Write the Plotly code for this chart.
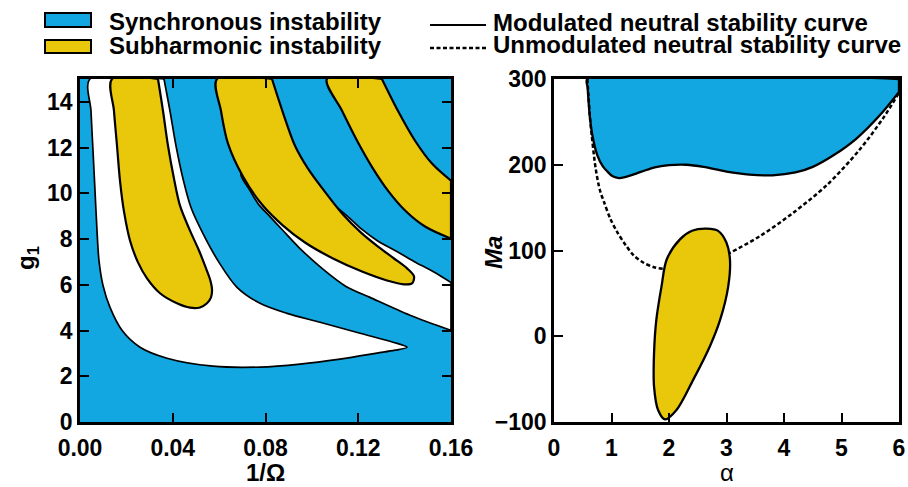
import plotly.graph_objects as go

BLUE = "#12A7E0"
YELLOW = "#E9C80B"
FONT = "Liberation Sans"

# ---------------- Left panel: x = 1/Omega, y = g1 ----------------
X1_RANGE = [0, 0.16]
Y1_RANGE = [0, 15]
x1_ticks = [0.0, 0.04, 0.08, 0.12, 0.16]
y1_ticks = [0, 2, 4, 6, 8, 10, 12, 14]

# stable (white) region 1 : left/lower boundary then upper boundary
w1_x = [0.00431, 0.00474, 0.00561, 0.00647, 0.00733, 0.00819, 0.00992, 0.01294, 0.01811,
        0.02588, 0.03752, 0.05736, 0.07763, 0.09488, 0.11213, 0.12809, 0.13585, 0.14103,
        0.13499, 0.12076, 0.10350, 0.08927, 0.07763, 0.06771, 0.05995, 0.05305, 0.04787,
        0.04442, 0.04140, 0.03881, 0.03623]
w1_y = [15.0, 13.60, 11.86, 10.12, 8.37, 7.06, 5.97, 5.01, 4.01,
        3.27, 2.79, 2.44, 2.40, 2.53, 2.75, 3.01, 3.14, 3.27,
        3.49, 3.88, 4.36, 4.75, 5.19, 5.89, 6.98, 8.24, 9.38,
        10.64, 12.08, 13.60, 15.0]

# stable (white) region 2 : lower boundary, right edge, upper boundary
w2_x = [0.06943, 0.07332, 0.07677, 0.08194, 0.08712, 0.09445, 0.10437, 0.11472, 0.12507,
        0.14232, 0.16, 0.16, 0.15224, 0.14404, 0.13585, 0.12809, 0.12162, 0.11601, 0.11000]
w2_y = [10.86, 10.12, 9.55, 8.98, 8.42, 7.63, 6.72, 5.93, 5.45,
        4.67, 4.01, 6.10, 6.58, 7.02, 7.50, 7.94, 8.42, 8.94, 9.45]

# subharmonic tongues (yellow)
s1_x = [0.01380, 0.01466, 0.01596, 0.01725, 0.01898, 0.02156, 0.02501, 0.02890, 0.03450,
        0.04183, 0.04744, 0.05175, 0.05477, 0.05650, 0.05693, 0.05607, 0.05434, 0.05132,
        0.04744, 0.04313, 0.04054, 0.03795, 0.03580, 0.03364]
s1_y = [15.0, 13.60, 12.08, 10.55, 9.20, 7.94, 6.98, 6.28, 5.63,
        5.19, 5.00, 5.01, 5.19, 5.45, 5.80, 6.24, 6.72, 7.50,
        8.37, 9.46, 10.64, 12.08, 13.60, 15.0]

s2_x = [0.05908, 0.06081, 0.06383, 0.07030, 0.07849, 0.08755, 0.09704, 0.10911, 0.12162,
        0.13240, 0.13973, 0.14318, 0.14404, 0.14103, 0.13542, 0.12852, 0.12119, 0.11342,
        0.10523, 0.09833, 0.09272, 0.08755, 0.08280]
s2_y = [15.0, 13.60, 12.17, 10.73, 9.51, 8.59, 7.85, 7.15, 6.58,
        6.19, 6.02, 6.06, 6.37, 6.72, 7.15, 7.67, 8.28, 9.07,
        10.12, 11.08, 12.08, 13.52, 15.0]

s3_x = [0.1065, 0.1302, 0.1371, 0.1445, 0.1518, 0.16, 0.16, 0.1488, 0.1402, 0.1328,
        0.1259, 0.1195, 0.1130]
s3_y = [15.0, 15.0, 13.61, 12.30, 11.30, 10.55, 8.02, 8.55, 9.25, 10.12,
        11.16, 12.30, 13.61]

# ---------------- Right panel: x = alpha, y = Ma ----------------
X2_RANGE = [0, 6]
Y2_RANGE = [-100, 300]
x2_ticks = [0, 1, 2, 3, 4, 5, 6]
y2_ticks = [-100, 0, 100, 200, 300]

sync_x = [0.58, 6.0, 6.0, 5.67, 5.26, 4.86, 4.5, 4.2, 3.8, 3.4, 3.0, 2.6, 2.3, 2.0,
          1.75, 1.51, 1.25, 1.13, 1.02, 0.93, 0.85, 0.754, 0.667, 0.62, 0.6, 0.585]
sync_y = [300, 300, 285, 258, 230.6, 211, 197.5, 191, 187.7, 188.5, 192, 197.5, 200, 199.5,
          197, 191.6, 186, 184.5, 186.5, 192, 198, 211, 234.5, 258, 275, 290]

unmod_x = [0.58, 0.6, 0.62, 0.638, 0.725, 0.8, 0.87, 0.98, 1.1, 1.25, 1.39, 1.55, 1.74,
           1.91, 2.1, 2.4, 2.7, 3.06, 3.58, 4.16, 4.74, 5.32, 5.73, 6.0]
unmod_y = [300, 280, 260, 246, 195.5, 170, 156.5, 137, 121.4, 106, 94, 86, 80.5,
           78.6, 78.5, 80, 85, 97.3, 116.7, 144, 176, 218, 255, 284]

sub_x = [1.93, 1.81, 1.74, 1.74, 1.78, 1.87, 1.96, 2.19, 2.4, 2.655, 2.86, 3.0, 3.06,
         3.03, 2.89, 2.71, 2.42, 2.13]
sub_y = [-96.9, -86, -58.7, -19.7, 19.3, 58.2, 89.5, 113, 123, 125.4, 122.6, 109, 89.5,
         58.2, 19.3, -11.9, -50.9, -86]

fig = go.Figure()


def region(x, y, color, xa, ya, lw=2.0, corners=()):
    """Closed smooth outline; points listed in `corners` are kept sharp."""
    xs, ys = [], []
    for i, (a, b) in enumerate(zip(x, y)):
        xs.append(a)
        ys.append(b)
        if i in corners:
            xs.append(a)
            ys.append(b)
    xs.append(x[0])
    ys.append(y[0])
    fig.add_trace(go.Scatter(x=xs, y=ys, mode="lines", fill="toself", fillcolor=color,
                             line=dict(color="black", width=lw, shape="spline", smoothing=0.9),
                             xaxis=xa, yaxis=ya, hoverinfo="skip", showlegend=False))


region(w1_x, w1_y, "white", "x", "y", 1.7, corners=(len(w1_x) - 1,))
region(w2_x, w2_y, "white", "x", "y", 1.7, corners=(10, 11, len(w2_x) - 1))
region(s1_x, s1_y, YELLOW, "x", "y", 2.2, corners=(len(s1_x) - 1,))
region(s2_x, s2_y, YELLOW, "x", "y", 2.2, corners=(len(s2_x) - 1,))
region(s3_x, s3_y, YELLOW, "x", "y", 2.2, corners=(1, 5, 6))

region(sync_x, sync_y, BLUE, "x2", "y2", 2.3, corners=(1, 2))
fig.add_trace(go.Scatter(x=unmod_x, y=unmod_y, mode="lines",
                         line=dict(color="black", width=2.5, dash="4px,2.5px", shape="spline",
                                   smoothing=0.9),
                         xaxis="x2", yaxis="y2", hoverinfo="skip", showlegend=False))
region(sub_x, sub_y, YELLOW, "x2", "y2", 2.3)

W, H = 908, 487


def px(x):
    return x / W


def py(y):
    return 1 - y / H


# blue background of left panel (synchronous instability)
fig.add_shape(type="rect", xref="x domain", yref="y domain", x0=0, x1=1, y0=0, y1=1,
              fillcolor=BLUE, line=dict(width=0), layer="below")

axis_common = dict(showgrid=False, zeroline=False, showline=True, linecolor="black", linewidth=2.5,
                   ticks="inside", ticklen=9, tickwidth=2, tickcolor="black", automargin=False,
                   tickfont=dict(family=FONT, size=23, color="black", weight="bold"))

fig.update_layout(
    width=W, height=H, margin=dict(l=0, r=0, t=0, b=0, autoexpand=False),
    paper_bgcolor="white", plot_bgcolor="white", showlegend=False,
    xaxis=dict(domain=[px(80), px(451)], range=X1_RANGE, tickvals=x1_ticks, tickformat=".2f",
               mirror="allticks", anchor="y", ticklabelstandoff=4, **axis_common),
    yaxis=dict(domain=[py(422), py(79)], range=Y1_RANGE, tickvals=y1_ticks,
               mirror="allticks", anchor="x", **axis_common),
    xaxis2=dict(domain=[px(554), px(899)], range=X2_RANGE, tickvals=x2_ticks,
                mirror=True, anchor="y2", ticklabelstandoff=4, **axis_common),
    yaxis2=dict(domain=[py(422), py(79)], range=Y2_RANGE, tickvals=y2_ticks,
                mirror=True, anchor="x2", **axis_common),
)

bold = dict(family=FONT, size=24, color="black", weight="bold")

# axis titles
fig.add_annotation(text="1/Ω", x=px(265), y=py(472), xref="paper", yref="paper",
                   showarrow=False, font=bold, xanchor="center", yanchor="middle")
fig.add_annotation(text="α", x=px(727), y=py(472), xref="paper", yref="paper",
                   showarrow=False, font=dict(family=FONT, size=24, color="black"),
                   xanchor="center", yanchor="middle")
fig.add_annotation(text="g<sub>1</sub>", x=px(27), y=py(258), xref="paper", yref="paper",
                   showarrow=False, font=bold, textangle=-90, xanchor="center", yanchor="middle")
fig.add_annotation(text="<i>Ma</i>", x=px(493), y=py(252), xref="paper", yref="paper",
                   showarrow=False, font=bold, textangle=-90, xanchor="center", yanchor="middle")

# legend (drawn manually)
fig.add_shape(type="rect", xref="paper", yref="paper", x0=px(45), x1=px(91), y0=py(27), y1=py(13),
              fillcolor=BLUE, line=dict(color="black", width=2))
fig.add_shape(type="rect", xref="paper", yref="paper", x0=px(45), x1=px(91), y0=py(53), y1=py(40),
              fillcolor=YELLOW, line=dict(color="black", width=2))
fig.add_annotation(text="Synchronous instability", x=px(107), y=py(21), xref="paper", yref="paper",
                   showarrow=False, font=bold, xanchor="left", yanchor="middle")
fig.add_annotation(text="Subharmonic instability", x=px(107), y=py(46), xref="paper", yref="paper",
                   showarrow=False, font=bold, xanchor="left", yanchor="middle")
fig.add_shape(type="line", xref="paper", yref="paper", x0=px(430), x1=px(486), y0=py(25), y1=py(25),
              line=dict(color="black", width=2.2))
fig.add_shape(type="line", xref="paper", yref="paper", x0=px(430), x1=px(486), y0=py(48), y1=py(48),
              line=dict(color="black", width=2.5, dash="4px,2.5px"))
fig.add_annotation(text="Modulated neutral stability curve", x=px(491), y=py(22), xref="paper",
                   yref="paper", showarrow=False, font=bold, xanchor="left", yanchor="middle")
fig.add_annotation(text="Unmodulated neutral stability curve", x=px(491), y=py(45), xref="paper",
                   yref="paper", showarrow=False, font=bold, xanchor="left", yanchor="middle")

fig.write_html("out.html")
